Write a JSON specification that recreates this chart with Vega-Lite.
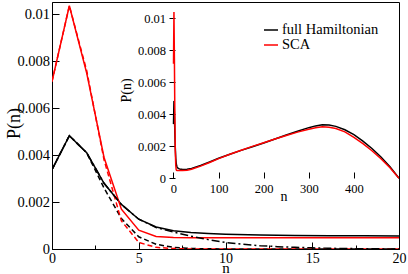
{
  "$schema": "https://vega.github.io/schema/vega-lite/v6.json",
  "width": 347,
  "height": 247,
  "autosize": {"type": "none"},
  "padding": {"left": 52, "top": 2, "right": 9, "bottom": 25},
  "config": {
    "view": {"stroke": "black", "strokeWidth": 1},
    "font": "Liberation Serif",
    "axis": {
      "grid": false,
      "domainColor": "black",
      "tickColor": "black",
      "labelColor": "black",
      "titleColor": "black",
      "labelFont": "Liberation Serif",
      "titleFont": "Liberation Serif",
      "titleFontWeight": "normal",
      "labelFlush": false,
      "labelOverlap": false,
      "zindex": 1
    },
    "legend": {"labelFont": "Liberation Serif"}
  },
  "datasets": {
    "solid": [
      {"n": 0, "P": 0.00338, "model": "full Hamiltonian"},
      {"n": 1, "P": 0.00483, "model": "full Hamiltonian"},
      {"n": 2, "P": 0.0041, "model": "full Hamiltonian"},
      {"n": 3, "P": 0.0028, "model": "full Hamiltonian"},
      {"n": 4, "P": 0.0019, "model": "full Hamiltonian"},
      {"n": 5, "P": 0.00127, "model": "full Hamiltonian"},
      {"n": 6, "P": 0.00094, "model": "full Hamiltonian"},
      {"n": 7, "P": 0.00078, "model": "full Hamiltonian"},
      {"n": 8, "P": 0.0007, "model": "full Hamiltonian"},
      {"n": 9, "P": 0.00066, "model": "full Hamiltonian"},
      {"n": 10, "P": 0.00063, "model": "full Hamiltonian"},
      {"n": 12, "P": 0.0006, "model": "full Hamiltonian"},
      {"n": 14, "P": 0.00058, "model": "full Hamiltonian"},
      {"n": 16, "P": 0.00057, "model": "full Hamiltonian"},
      {"n": 18, "P": 0.00056, "model": "full Hamiltonian"},
      {"n": 20, "P": 0.00055, "model": "full Hamiltonian"},
      {"n": 30, "P": 0.00056, "model": "full Hamiltonian"},
      {"n": 40, "P": 0.00062, "model": "full Hamiltonian"},
      {"n": 60, "P": 0.0008, "model": "full Hamiltonian"},
      {"n": 80, "P": 0.00102, "model": "full Hamiltonian"},
      {"n": 100, "P": 0.00125, "model": "full Hamiltonian"},
      {"n": 125, "P": 0.0015, "model": "full Hamiltonian"},
      {"n": 150, "P": 0.00174, "model": "full Hamiltonian"},
      {"n": 175, "P": 0.00197, "model": "full Hamiltonian"},
      {"n": 200, "P": 0.0022, "model": "full Hamiltonian"},
      {"n": 225, "P": 0.00245, "model": "full Hamiltonian"},
      {"n": 250, "P": 0.0027, "model": "full Hamiltonian"},
      {"n": 275, "P": 0.00294, "model": "full Hamiltonian"},
      {"n": 300, "P": 0.00316, "model": "full Hamiltonian"},
      {"n": 315, "P": 0.00327, "model": "full Hamiltonian"},
      {"n": 330, "P": 0.00334, "model": "full Hamiltonian"},
      {"n": 345, "P": 0.00333, "model": "full Hamiltonian"},
      {"n": 360, "P": 0.00324, "model": "full Hamiltonian"},
      {"n": 380, "P": 0.00303, "model": "full Hamiltonian"},
      {"n": 400, "P": 0.00272, "model": "full Hamiltonian"},
      {"n": 420, "P": 0.00232, "model": "full Hamiltonian"},
      {"n": 440, "P": 0.00186, "model": "full Hamiltonian"},
      {"n": 460, "P": 0.00133, "model": "full Hamiltonian"},
      {"n": 480, "P": 0.00072, "model": "full Hamiltonian"},
      {"n": 500, "P": 0.0, "model": "full Hamiltonian"},
      {"n": 0, "P": 0.00714, "model": "SCA"},
      {"n": 1, "P": 0.01037, "model": "SCA"},
      {"n": 2, "P": 0.0075, "model": "SCA"},
      {"n": 3, "P": 0.0039, "model": "SCA"},
      {"n": 4, "P": 0.0017, "model": "SCA"},
      {"n": 5, "P": 0.0008, "model": "SCA"},
      {"n": 6, "P": 0.00053, "model": "SCA"},
      {"n": 7, "P": 0.00049, "model": "SCA"},
      {"n": 8, "P": 0.00048, "model": "SCA"},
      {"n": 9, "P": 0.00048, "model": "SCA"},
      {"n": 10, "P": 0.00048, "model": "SCA"},
      {"n": 12, "P": 0.00048, "model": "SCA"},
      {"n": 14, "P": 0.00048, "model": "SCA"},
      {"n": 16, "P": 0.00048, "model": "SCA"},
      {"n": 18, "P": 0.00048, "model": "SCA"},
      {"n": 20, "P": 0.00048, "model": "SCA"},
      {"n": 30, "P": 0.0005, "model": "SCA"},
      {"n": 40, "P": 0.00056, "model": "SCA"},
      {"n": 60, "P": 0.00076, "model": "SCA"},
      {"n": 80, "P": 0.00099, "model": "SCA"},
      {"n": 100, "P": 0.00123, "model": "SCA"},
      {"n": 125, "P": 0.0015, "model": "SCA"},
      {"n": 150, "P": 0.00175, "model": "SCA"},
      {"n": 175, "P": 0.00199, "model": "SCA"},
      {"n": 200, "P": 0.00222, "model": "SCA"},
      {"n": 225, "P": 0.00245, "model": "SCA"},
      {"n": 250, "P": 0.00267, "model": "SCA"},
      {"n": 275, "P": 0.00288, "model": "SCA"},
      {"n": 300, "P": 0.00306, "model": "SCA"},
      {"n": 315, "P": 0.00316, "model": "SCA"},
      {"n": 330, "P": 0.00321, "model": "SCA"},
      {"n": 345, "P": 0.00319, "model": "SCA"},
      {"n": 360, "P": 0.00311, "model": "SCA"},
      {"n": 380, "P": 0.0029, "model": "SCA"},
      {"n": 400, "P": 0.00256, "model": "SCA"},
      {"n": 420, "P": 0.00216, "model": "SCA"},
      {"n": 440, "P": 0.00172, "model": "SCA"},
      {"n": 460, "P": 0.00122, "model": "SCA"},
      {"n": 480, "P": 0.00066, "model": "SCA"},
      {"n": 500, "P": 0.0, "model": "SCA"}
    ],
    "approx": [
      {"n": 0, "P": 0.00338, "model": "full Hamiltonian", "curve": "dashed"},
      {"n": 1, "P": 0.00483, "model": "full Hamiltonian", "curve": "dashed"},
      {"n": 2, "P": 0.0041, "model": "full Hamiltonian", "curve": "dashed"},
      {"n": 3, "P": 0.0026, "model": "full Hamiltonian", "curve": "dashed"},
      {"n": 4, "P": 0.0013, "model": "full Hamiltonian", "curve": "dashed"},
      {"n": 5, "P": 0.00052, "model": "full Hamiltonian", "curve": "dashed"},
      {"n": 6, "P": 0.0002, "model": "full Hamiltonian", "curve": "dashed"},
      {"n": 7, "P": 0.00007, "model": "full Hamiltonian", "curve": "dashed"},
      {"n": 8, "P": 0.00002, "model": "full Hamiltonian", "curve": "dashed"},
      {"n": 10, "P": 0.0, "model": "full Hamiltonian", "curve": "dashed"},
      {"n": 20, "P": 0.0, "model": "full Hamiltonian", "curve": "dashed"},
      {"n": 0, "P": 0.00714, "model": "SCA", "curve": "dashed"},
      {"n": 1, "P": 0.01037, "model": "SCA", "curve": "dashed"},
      {"n": 2, "P": 0.0076, "model": "SCA", "curve": "dashed"},
      {"n": 3, "P": 0.0038, "model": "SCA", "curve": "dashed"},
      {"n": 4, "P": 0.0012, "model": "SCA", "curve": "dashed"},
      {"n": 5, "P": 0.00028, "model": "SCA", "curve": "dashed"},
      {"n": 6, "P": 0.00007, "model": "SCA", "curve": "dashed"},
      {"n": 7, "P": 0.00002, "model": "SCA", "curve": "dashed"},
      {"n": 8, "P": 0.0, "model": "SCA", "curve": "dashed"},
      {"n": 20, "P": 0.0, "model": "SCA", "curve": "dashed"},
      {"n": 0, "P": 0.00338, "model": "full Hamiltonian", "curve": "dashdot"},
      {"n": 1, "P": 0.00483, "model": "full Hamiltonian", "curve": "dashdot"},
      {"n": 2, "P": 0.0041, "model": "full Hamiltonian", "curve": "dashdot"},
      {"n": 3, "P": 0.0028, "model": "full Hamiltonian", "curve": "dashdot"},
      {"n": 4, "P": 0.0019, "model": "full Hamiltonian", "curve": "dashdot"},
      {"n": 5, "P": 0.00127, "model": "full Hamiltonian", "curve": "dashdot"},
      {"n": 6, "P": 0.00092, "model": "full Hamiltonian", "curve": "dashdot"},
      {"n": 7, "P": 0.00072, "model": "full Hamiltonian", "curve": "dashdot"},
      {"n": 8, "P": 0.00055, "model": "full Hamiltonian", "curve": "dashdot"},
      {"n": 9, "P": 0.0004, "model": "full Hamiltonian", "curve": "dashdot"},
      {"n": 10, "P": 0.00028, "model": "full Hamiltonian", "curve": "dashdot"},
      {"n": 11, "P": 0.0002, "model": "full Hamiltonian", "curve": "dashdot"},
      {"n": 12, "P": 0.00014, "model": "full Hamiltonian", "curve": "dashdot"},
      {"n": 13, "P": 0.0001, "model": "full Hamiltonian", "curve": "dashdot"},
      {"n": 14, "P": 0.00007, "model": "full Hamiltonian", "curve": "dashdot"},
      {"n": 15, "P": 0.00005, "model": "full Hamiltonian", "curve": "dashdot"},
      {"n": 16, "P": 0.00003, "model": "full Hamiltonian", "curve": "dashdot"},
      {"n": 17, "P": 0.00002, "model": "full Hamiltonian", "curve": "dashdot"},
      {"n": 18, "P": 0.00001, "model": "full Hamiltonian", "curve": "dashdot"},
      {"n": 20, "P": 0.0, "model": "full Hamiltonian", "curve": "dashdot"}
    ]
  },
  "layer": [
    {
      "layer": [
        {
          "data": {"name": "solid"},
          "mark": {"type": "line", "clip": true, "strokeWidth": 1.5},
          "encoding": {
            "x": {"field": "n", "type": "quantitative",
              "scale": {"domain": [0, 20], "nice": false, "zero": false},
              "axis": {"orient": "bottom", "title": "n", "titleFontSize": 15, "labelFontSize": 14,
                "labelFont": "Liberation Serif", "titleFont": "Liberation Serif",
                "values": [0, 2.5, 5, 7.5, 10, 12.5, 15, 17.5, 20],
                "labelExpr": "datum.value % 5 === 0 ? datum.label : ''",
                "tickSize": {"condition": {"test": "datum.value % 5 === 0", "value": -7}, "value": -4},
                "labelPadding": 9.5, "titleY": 23, "titleBaseline": "alphabetic", "titleAlign": "center"}},
            "y": {"field": "P", "type": "quantitative",
              "scale": {"domain": [0, 0.01053], "nice": false, "zero": false},
              "axis": {"orient": "left", "title": "P(n)", "titleFontSize": 18, "labelFontSize": 14.5,
                "labelFont": "Liberation Serif", "titleFont": "Liberation Serif",
                "values": [0, 0.001, 0.002, 0.003, 0.004, 0.005, 0.006, 0.007, 0.008, 0.009, 0.01],
                "labelExpr": "round(datum.value * 1000) % 2 === 0 ? ('' + datum.value) : ''",
                "tickSize": {"condition": {"test": "round(datum.value * 1000) % 2 === 0", "value": -7}, "value": -4},
                "labelPadding": 9.5, "titleX": -38, "titleY": 121, "titleAlign": "center", "titleBaseline": "middle"}},
            "color": {"field": "model", "type": "nominal",
              "scale": {"domain": ["full Hamiltonian", "SCA"], "range": ["#000000", "#ff0000"]},
              "legend": {"orient": "none", "legendX": 211, "legendY": 20, "title": null,
                "symbolType": "stroke", "symbolSize": 196, "symbolStrokeWidth": 1.5,
                "labelFont": "Liberation Serif",
                "labelFontSize": 14.5, "labelOffset": 3, "padding": 0, "rowPadding": 0, "labelColor": "black"}}
          }
        },
        {
          "data": {"name": "approx"},
          "mark": {"type": "line", "clip": true, "strokeWidth": 1.5},
          "encoding": {
            "x": {"field": "n", "type": "quantitative"},
            "y": {"field": "P", "type": "quantitative"},
            "color": {"field": "model", "type": "nominal"},
            "strokeDash": {"field": "curve", "type": "nominal",
              "scale": {"domain": ["dashed", "dashdot"], "range": [[5, 3], [8, 3, 2, 3]]},
              "legend": null}
          }
        }
      ]
    },
    {
      "layer": [
        {
          "mark": {"type": "rect", "fill": "white", "stroke": "black", "strokeWidth": 1},
          "encoding": {
            "x": {"datum": -10.4, "type": "quantitative",
              "scale": {"domain": [-269.4, 500], "nice": false, "zero": false}},
            "x2": {"datum": 500},
            "y": {"datum": 0, "type": "quantitative",
              "scale": {"domain": [-0.004411, 0.011], "nice": false, "zero": false}},
            "y2": {"datum": 0.011}
          }
        },
        {
          "data": {"name": "solid"},
          "mark": {"type": "line", "clip": true, "strokeWidth": 1.5},
          "encoding": {
            "x": {"field": "n", "type": "quantitative",
              "scale": {"domain": [-269.4, 500], "nice": false, "zero": false},
              "axis": {"orient": "bottom", "offset": -71, "domain": false, "title": "n",
                "labelFont": "Liberation Serif", "titleFont": "Liberation Serif",
                "titleFontSize": 14, "labelFontSize": 12.5, "titleX": 231.5, "titleY": 22,
                "titleAlign": "center", "titleBaseline": "alphabetic",
                "values": [0, 50, 100, 150, 200, 250, 300, 350, 400, 450],
                "labelExpr": "datum.value % 100 === 0 ? datum.label : ''",
                "tickSize": {"condition": {"test": "datum.value % 100 === 0", "value": -6}, "value": -3},
                "labelPadding": 10}},
            "y": {"field": "P", "type": "quantitative",
              "scale": {"domain": [-0.004411, 0.011], "nice": false, "zero": false},
              "axis": {"orient": "left", "offset": -117, "domain": false, "title": "P(n)",
                "labelFont": "Liberation Serif", "titleFont": "Liberation Serif",
                "titleFontSize": 14, "labelFontSize": 12.5, "titleY": 88, "titleX": -43,
                "titleAlign": "center", "titleBaseline": "middle",
                "values": [0, 0.001, 0.002, 0.003, 0.004, 0.005, 0.006, 0.007, 0.008, 0.009, 0.01],
                "labelExpr": "round(datum.value * 1000) % 2 === 0 ? ('' + datum.value) : ''",
                "tickSize": {"condition": {"test": "round(datum.value * 1000) % 2 === 0", "value": -6}, "value": -3},
                "labelPadding": 9.5}},
            "color": {"field": "model", "type": "nominal"}
          }
        }
      ]
    }
  ],
  "resolve": {"scale": {"x": "independent", "y": "independent"}}
}
